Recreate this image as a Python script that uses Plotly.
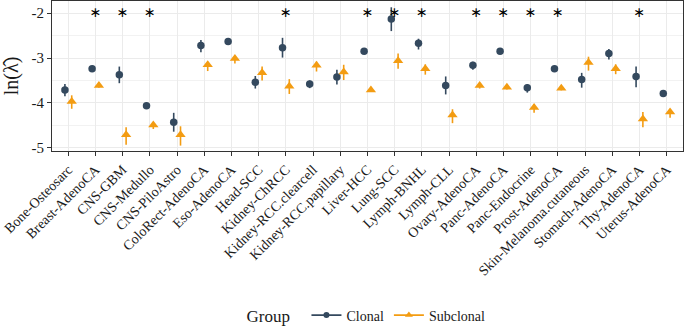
import numpy as np
import plotly.graph_objects as go

categories = ["Bone-Osteosarc", "Breast-AdenoCA", "CNS-GBM", "CNS-Medullo", "CNS-PiloAstro",
              "ColoRect-AdenoCA", "Eso-AdenoCA", "Head-SCC", "Kidney-ChRCC", "Kidney-RCC.clearcell",
              "Kidney-RCC.papillary", "Liver-HCC", "Lung-SCC", "Lymph-BNHL", "Lymph-CLL",
              "Ovary-AdenoCA", "Panc-AdenoCA", "Panc-Endocrine", "Prost-AdenoCA",
              "Skin-Melanoma.cutaneous", "Stomach-AdenoCA", "Thy-AdenoCA", "Uterus-AdenoCA"]

clonal = [-3.71, -3.24, -3.37, -4.06, -4.43, -2.72, -2.63, -3.54, -2.77, -3.58,
          -3.42, -2.85, -2.13, -2.67, -3.61, -3.16, -2.85, -3.66, -3.24, -3.48,
          -2.90, -3.41, -3.79]
clonal_lo = [-3.85, -3.29, -3.56, -4.12, -4.64, -2.87, -2.70, -3.68, -2.99, -3.67,
             -3.59, -2.89, -2.40, -2.81, -3.81, -3.26, -2.89, -3.77, -3.28, -3.66,
             -3.03, -3.65, -3.86]
clonal_hi = [-3.58, -3.19, -3.19, -4.00, -4.22, -2.60, -2.56, -3.40, -2.55, -3.50,
             -3.26, -2.81, -1.87, -2.57, -3.41, -3.08, -2.81, -3.58, -3.20, -3.33,
             -2.80, -3.19, -3.72]

subclonal = [-3.97, -3.61, -4.71, -4.49, -4.71, -3.15, -3.01, -3.33, -3.63, -3.16,
             -3.31, -3.71, -3.06, -3.24, -4.27, -3.61, -3.65, -4.10, -3.67, -3.10,
             -3.24, -4.36, -4.20]
subclonal_lo = [-4.13, -3.66, -4.93, -4.58, -4.95, -3.29, -3.12, -3.50, -3.80, -3.30,
                -3.49, -3.75, -3.24, -3.37, -4.45, -3.68, -3.70, -4.22, -3.72, -3.28,
                -3.36, -4.54, -4.33]
subclonal_hi = [-3.83, -3.56, -4.54, -4.45, -4.52, -3.10, -2.97, -3.19, -3.47, -3.08,
                -3.15, -3.67, -2.90, -3.14, -4.14, -3.56, -3.60, -4.03, -3.62, -2.97,
                -3.14, -4.20, -4.14]

significant = ["Breast-AdenoCA", "CNS-GBM", "CNS-Medullo", "Kidney-ChRCC", "Liver-HCC",
               "Lung-SCC", "Lymph-BNHL", "Ovary-AdenoCA", "Panc-AdenoCA", "Panc-Endocrine",
               "Prost-AdenoCA", "Thy-AdenoCA"]
star_level = -2

C_CLONAL = "#34495E"
C_SUB = "#F39C12"
FONT = "Liberation Serif"
dodge = 0.125

idx = np.arange(len(categories))
fig = go.Figure()

def add_series(vals, lo, hi, offset, color, symbol, size):
    vals = np.array(vals); lo = np.array(lo); hi = np.array(hi)
    fig.add_trace(go.Scatter(
        x=idx + offset, y=vals, mode="markers", showlegend=False,
        marker=dict(color=color, symbol=symbol, size=size),
        error_y=dict(type="data", symmetric=False, array=hi - vals, arrayminus=vals - lo,
                     color=color, thickness=1.6, width=0),
        hoverinfo="skip"))

add_series(clonal, clonal_lo, clonal_hi, -dodge, C_CLONAL, "circle", 7.5)
add_series(subclonal, subclonal_lo, subclonal_hi, dodge, C_SUB, "triangle-up", 9)

for name, color, sym, sz in [("Clonal", C_CLONAL, "circle", 6), ("Subclonal", C_SUB, "triangle-up", 7)]:
    fig.add_trace(go.Scatter(x=[None], y=[None], mode="lines+markers", name=name,
                             line=dict(color=color, width=1.6),
                             marker=dict(color=color, symbol=sym, size=sz)))

sig_idx = [categories.index(c) for c in significant]
fig.add_trace(go.Scatter(x=sig_idx, y=[star_level] * len(sig_idx), mode="text",
                         text=["\u2217"] * len(sig_idx), textposition="middle center",
                         textfont=dict(family="DejaVu Sans", size=14, color="black"),
                         showlegend=False, hoverinfo="skip"))

axis_common = dict(showline=True, mirror=True, linecolor="#333333", linewidth=1,
                   gridcolor="#EBEBEB", gridwidth=1, ticks="outside", ticklen=4,
                   tickcolor="#333333", tickwidth=1, zeroline=False)

fig.update_xaxes(range=[-0.6, len(categories) - 0.4], tickmode="array", tickvals=idx,
                 ticktext=categories, tickangle=-45, ticklabeloverflow="allow",
                 tickfont=dict(family=FONT, size=14, color="#1a1a1a"), automargin=False,
                 **axis_common)
fig.update_yaxes(range=[-5.07, -1.73], tickmode="array", tickvals=[-5, -4, -3, -2],
                 ticktext=["-5", "-4", "-3", "-2"],
                 minor=dict(tickvals=[-4.5, -3.5, -2.5], showgrid=True, gridcolor="#F2F2F2",
                            gridwidth=0.6, ticks=""),
                 tickfont=dict(family=FONT, size=15, color="#1a1a1a"),
                 title=dict(text="ln(\u03bb\u0302)", font=dict(family=FONT, size=20), standoff=8),
                 automargin=False, **axis_common)

fig.update_layout(
    width=685, height=334, plot_bgcolor="white", paper_bgcolor="white",
    margin=dict(l=52, r=2, t=1, b=177),
    font=dict(family=FONT, color="#1a1a1a"),
    legend=dict(orientation="h", x=0.5, xanchor="center", y=-1.1, yanchor="middle",
                title=dict(text="Group  ", font=dict(family=FONT, size=17)),
                font=dict(family=FONT, size=14), itemwidth=30),
)

fig.write_html("out.html", config={"displayModeBar": False},
               post_script="document.body.style.margin='0';document.body.style.padding='0';")
